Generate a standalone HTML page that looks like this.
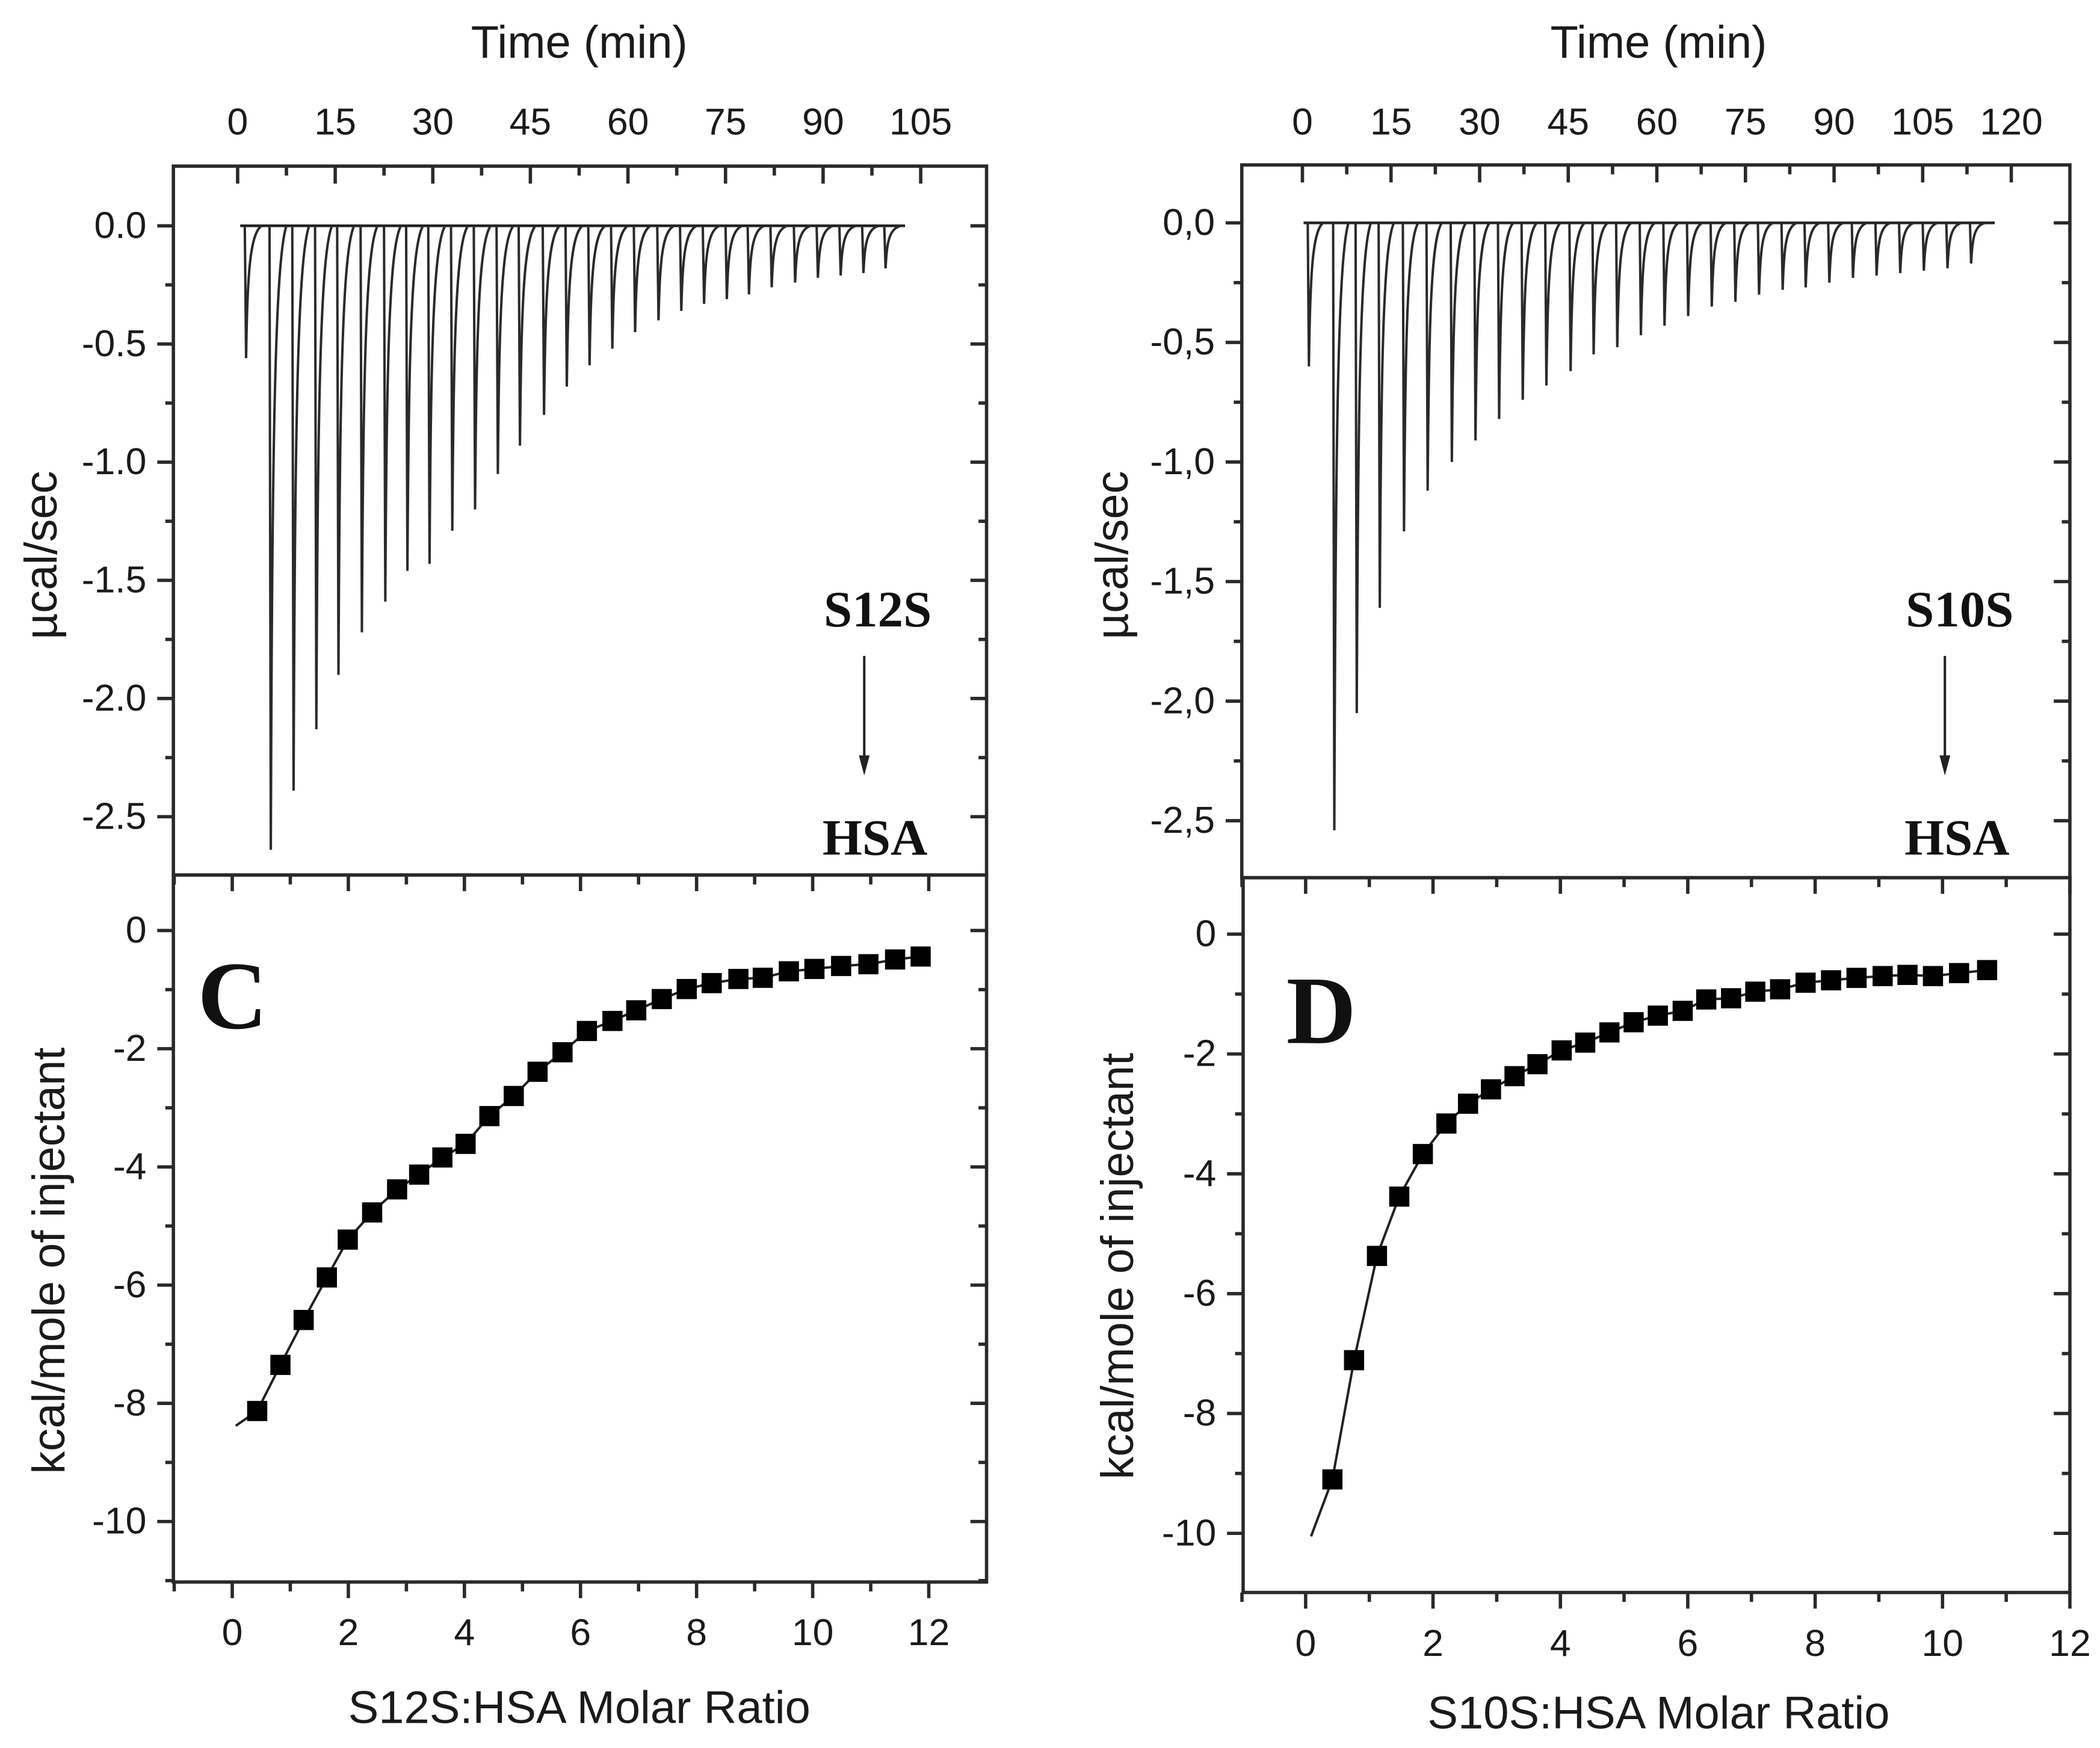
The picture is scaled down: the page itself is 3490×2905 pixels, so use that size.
<!DOCTYPE html>
<html><head><meta charset="utf-8"><style>
html,body{margin:0;padding:0;background:#fff;}
svg{display:block;}
text{font-family:"Liberation Sans",Arial,sans-serif;fill:#1a1a1a;}
.serif{font-family:"Liberation Serif","Times New Roman",serif;font-weight:bold;fill:#111;}
</style></head><body>
<svg id="chart" xmlns="http://www.w3.org/2000/svg" width="3490" height="2905" viewBox="0 0 1562.4 1300.5">
<rect width="1562.4" height="1300.5" fill="#fff"/>
</svg>
<script>
// ---- Data (left: S12S) ----
const peakTimesC = [1.3,5.1,8.6,12.1,15.5,19.1,22.7,26.1,29.5,33.0,36.5,40.0,43.4,47.1,50.6,54.1,57.6,61.1,64.7,68.2,71.7,75.2,78.6,82.1,85.7,89.2,92.7,96.2,99.6];
const peakValsC = [-0.56,-2.64,-2.39,-2.13,-1.90,-1.72,-1.59,-1.46,-1.43,-1.29,-1.20,-1.05,-0.93,-0.80,-0.68,-0.59,-0.52,-0.45,-0.40,-0.36,-0.33,-0.31,-0.29,-0.26,-0.24,-0.22,-0.21,-0.20,-0.18];
const ratioC = [0.43,0.83,1.23,1.63,1.99,2.41,2.84,3.22,3.62,4.02,4.43,4.85,5.26,5.69,6.11,6.55,6.96,7.40,7.83,8.26,8.72,9.14,9.59,10.03,10.49,10.96,11.42,11.86];
const heatC = [-8.13,-7.35,-6.59,-5.87,-5.23,-4.77,-4.38,-4.13,-3.84,-3.61,-3.14,-2.80,-2.39,-2.06,-1.70,-1.53,-1.35,-1.16,-0.99,-0.89,-0.82,-0.80,-0.69,-0.65,-0.60,-0.57,-0.49,-0.44];
const fitStartC = [0.06,-8.38];
// ---- Data (right: S10S) ----
const peakTimesD = [1.1,5.4,9.2,13.1,17.2,21.2,25.3,29.3,33.3,37.3,41.3,45.4,49.3,53.3,57.3,61.3,65.3,69.3,73.3,77.3,81.3,85.2,89.2,93.2,97.2,101.2,105.2,109.2,113.2];
const peakValsD = [-0.60,-2.54,-2.05,-1.61,-1.29,-1.12,-1.00,-0.91,-0.82,-0.74,-0.68,-0.62,-0.55,-0.52,-0.47,-0.43,-0.39,-0.35,-0.33,-0.30,-0.28,-0.27,-0.25,-0.23,-0.22,-0.21,-0.20,-0.19,-0.17];
const ratioD = [0.42,0.76,1.12,1.47,1.84,2.21,2.55,2.91,3.28,3.64,4.02,4.39,4.77,5.15,5.53,5.92,6.29,6.68,7.06,7.45,7.85,8.25,8.65,9.06,9.45,9.85,10.26,10.70];
const heatD = [-9.10,-7.11,-5.37,-4.38,-3.67,-3.16,-2.83,-2.59,-2.37,-2.17,-1.94,-1.81,-1.64,-1.47,-1.36,-1.28,-1.09,-1.07,-0.96,-0.92,-0.81,-0.77,-0.73,-0.70,-0.68,-0.70,-0.65,-0.60];
const fitStartD = [0.085,-10.05];
// tick labels
const timeTicksC = [0,15,30,45,60,75,90,105];
const timeTicksD = [0,15,30,45,60,75,90,105,120];
const rateTicks = [0.0,-0.5,-1.0,-1.5,-2.0,-2.5];
const ratioTicks = [0,2,4,6,8,10,12];
const heatTicks = [0,-2,-4,-6,-8,-10];

const NS="http://www.w3.org/2000/svg";
const svg=document.getElementById('chart');
function mk(tag,attrs,parent){const e=document.createElementNS(NS,tag);for(const k in attrs)e.setAttribute(k,attrs[k]);(parent||svg).appendChild(e);return e;}
function lin(d0,d1,r0,r1){return v=>r0+(v-d0)*(r1-r0)/(d1-d0);}

function topPanel(cfg){
  const g=mk('g',{});
  
  
  const X=lin(0,cfg.tmax,cfg.x0,cfg.x1), Y=lin(0,-2.5,cfg.y0,cfg.y25);
  const f=mk('rect',{x:cfg.L,y:cfg.T,width:cfg.R-cfg.L,height:cfg.B-cfg.T,fill:'none',stroke:'#2a2a2a','stroke-width':2.5},g);
  
  for(let t=0;t<=cfg.tmax+0.01;t+=7.5){const major=(t%15===0);const x=X(t);if(x<cfg.L||x>cfg.R)continue;
    mk('line',{x1:x,y1:cfg.T,x2:x,y2:cfg.T+(major?13:7),stroke:'#2a2a2a','stroke-width':2.5},g);}
  const tt=cfg.ticks;
  tt.forEach(v=>{const t=mk('text',{x:X(v),y:100,'font-size':28,'text-anchor':'middle'},g);t.textContent=v;
    });
  const tl=mk('text',{x:cfg.titleX,y:43,'font-size':34,'text-anchor':'middle'},g);tl.textContent='Time (min)';
  
  for(let v=0.25;v>=-2.75-0.01;v-=0.25){const y=Y(v);if(y<cfg.T+1||y>cfg.B-1)continue;const major=Math.abs(Math.round(v*2)-v*2)<0.01;
    mk('line',{x1:cfg.L-(major?12:6),y1:y,x2:cfg.L,y2:y,stroke:'#2a2a2a','stroke-width':2.5},g);
    mk('line',{x1:cfg.R-(major?12:6),y1:y,x2:cfg.R,y2:y,stroke:'#2a2a2a','stroke-width':2.5},g);}
  rateTicks.forEach(v=>{const t=mk('text',{x:cfg.L-20,y:Y(v)+9,'font-size':28,'text-anchor':'end'},g);
    t.textContent=v.toFixed(1).replace('.',cfg.dec);});
  const yl=mk('text',{x:0,y:0,'font-size':34,'text-anchor':'middle',transform:`translate(${cfg.ytX},${413}) rotate(-90)`},g);
  yl.textContent='µcal/sec';
  const bl=mk('line',{x1:X(cfg.t0),y1:Y(0),x2:X(cfg.tend),y2:Y(0),stroke:'#222','stroke-width':2},g);
  
  cfg.times.forEach((t,i)=>{const p=cfg.vals[i];
    const d=`M${X(t-0.2)},${Y(0)} L${X(t)},${Y(p)} C${X(t+0.2)},${Y(p*0.4)} ${X(t+0.5)},${Y(p*0.06)} ${X(t+2.4)},${Y(0)}`;
    const pk=mk('path',{d:d,fill:'none',stroke:'#2a2a2a','stroke-width':1.8},g);
    });
  const s1=mk('text',{x:cfg.labX,y:466,'font-size':38,'text-anchor':'middle',class:'serif'},g);s1.textContent=cfg.lig;
  
  const ar=mk('line',{x1:cfg.arX,y1:488,x2:cfg.arX,y2:566,stroke:'#222','stroke-width':1.8},g);
  
  mk('path',{d:`M${cfg.arX-4},562 L${cfg.arX+4},562 L${cfg.arX},577 Z`,fill:'#222'},g);
  const s2=mk('text',{x:cfg.labX-2,y:636,'font-size':38,'text-anchor':'middle',class:'serif'},g);s2.textContent='HSA';
  
}

function botPanel(cfg){
  const g=mk('g',{});
  
  
  const X=lin(0,12,cfg.x0,cfg.x12), Y=lin(0,-10,cfg.y0,cfg.y10);
  const f=mk('rect',{x:cfg.L,y:cfg.T,width:cfg.R-cfg.L,height:cfg.B-cfg.T,fill:'none',stroke:'#2a2a2a','stroke-width':2.5},g);
  
  for(let v=-1;v<=12;v++){const x=X(v);if(x<cfg.L-1||x>cfg.R+1)continue;const major=v%2===0;
    mk('line',{x1:x,y1:cfg.T,x2:x,y2:cfg.T+(major?12:7),stroke:'#2a2a2a','stroke-width':2.5},g);
    mk('line',{x1:x,y1:cfg.B,x2:x,y2:cfg.B+(major?12:7),stroke:'#2a2a2a','stroke-width':2.5},g);}
  ratioTicks.forEach(v=>{const t=mk('text',{x:X(v),y:cfg.tickY,'font-size':28,'text-anchor':'middle'},g);t.textContent=v;
    });
  for(let v=1;v>=-11;v--){const y=Y(v);if(y<cfg.T+1||y>cfg.B-1)continue;const major=v%2===0;
    mk('line',{x1:cfg.L-(major?12:6),y1:y,x2:cfg.L,y2:y,stroke:'#2a2a2a','stroke-width':2.5},g);
    mk('line',{x1:cfg.R-(major?12:6),y1:y,x2:cfg.R,y2:y,stroke:'#2a2a2a','stroke-width':2.5},g);}
  heatTicks.forEach(v=>{const t=mk('text',{x:cfg.L-20,y:Y(v)+9,'font-size':28,'text-anchor':'end'},g);t.textContent=v;
    });
  const xt=mk('text',{x:cfg.titleX,y:cfg.titleY,'font-size':34,'text-anchor':'middle'},g);xt.textContent=cfg.xtitle;
  
  const yt=mk('text',{x:0,y:0,'font-size':34,'text-anchor':'middle',transform:`translate(${cfg.ytX},${cfg.ytY}) rotate(-90)`},g);
  yt.textContent='kcal/mole of injectant';
  const pts=[[X(cfg.fit[0]),Y(cfg.fit[1])]].concat(cfg.xs.map((x,i)=>[X(x),Y(cfg.ys[i])]));
  const fl=mk('polyline',{points:pts.map(p=>p.join(',')).join(' '),fill:'none',stroke:'#222','stroke-width':1.8},g);
  
  cfg.xs.forEach((x,i)=>{const r=mk('rect',{x:X(x)-7.5,y:Y(cfg.ys[i])-7.5,width:15,height:15,fill:'#000'},g);
    });
  const lt=mk('text',{x:cfg.letX,y:cfg.letY,'font-size':72,'text-anchor':'middle',class:'serif'},g);lt.textContent=cfg.letter;
  
}

topPanel({name:'thermogram-s12s',L:129,R:734,T:123.6,B:651,x0:176.8,x1:685,tmax:105,y0:168,y25:607.6,ticks:timeTicksC,titleX:431,dec:'.',ytX:42,
  t0:0.4,tend:102.6,times:peakTimesC,vals:peakValsC,lig:'S12S',labX:653,arX:643});
topPanel({name:'thermogram-s10s',L:923.9,R:1540,T:122.7,B:653,x0:969,x1:1496.4,tmax:120,y0:165.8,y25:610.6,ticks:timeTicksD,titleX:1234,dec:',',ytX:839,
  t0:0.2,tend:117.2,times:peakTimesD,vals:peakValsD,lig:'S10S',labX:1458,arX:1447});
botPanel({name:'binding-isotherm-c',L:129,R:734,T:651,B:1177,x0:172.8,x12:691,y0:692.3,y10:1132,tickY:1224,titleX:431,titleY:1282,xtitle:'S12S:HSA Molar Ratio',
  ytX:48,ytY:938,xs:ratioC,ys:heatC,fit:fitStartC,letter:'C',letX:173,letY:765});
botPanel({name:'binding-isotherm-d',L:924.9,R:1540,T:653,B:1184.8,x0:971.4,x12:1540,y0:695,y10:1140.8,tickY:1232,titleX:1234,titleY:1286,xtitle:'S10S:HSA Molar Ratio',
  ytX:843,ytY:942,xs:ratioD,ys:heatD,fit:fitStartD,letter:'D',letX:983,letY:776});
</script>
</body></html>
